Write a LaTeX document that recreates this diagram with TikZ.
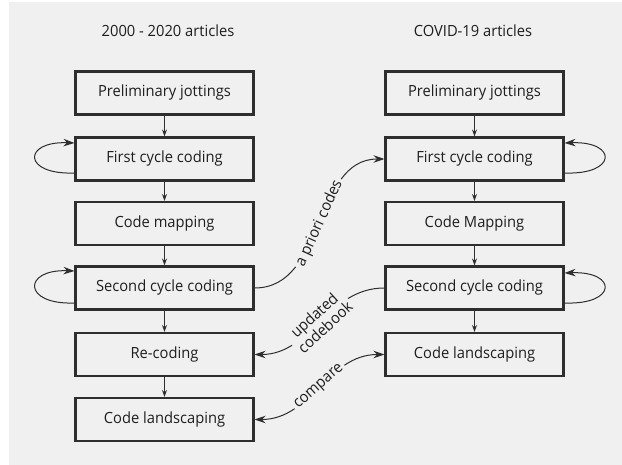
\documentclass[tikz,border=0pt]{standalone}
\usepackage{fontspec}
\setmainfont{Open Sans}[FakeStretch=0.955]
\usetikzlibrary{arrows.meta}
\definecolor{bg}{HTML}{F0F0F0}
\definecolor{ln}{HTML}{2E2E2E}
\definecolor{tx}{HTML}{1E1E1E}
\begin{document}
\begin{tikzpicture}[x=1pt,y=-1pt,
  box/.style={draw=ln, line width=2.1pt, fill=bg, minimum width=178pt, minimum height=43pt, inner sep=0pt, text=tx, font=\fontsize{15.4}{18}\selectfont},
  title/.style={text=tx, font=\fontsize{15.4}{18}\selectfont},
  flow/.style={draw=ln, line width=0.9pt, -{Stealth[length=7pt,width=5pt]}},
  conn/.style={draw=ln, line width=1pt, -{Stealth[length=11pt,width=7.5pt]}},
  lbl/.style={sloped, fill=bg, text=tx, inner sep=2.5pt, font=\fontsize{15.4}{15}\selectfont}
]
\useasboundingbox (0,0) rectangle (622,465);
\fill[bg] (9,2) rectangle (622,465);

\node[title] (TL) at (168,31) {2000 - 2020 articles};
\node[title] (TR) at (473,31) {COVID-19 articles};

\node[box] (L1) at (164.5,93)    {Preliminary jottings};
\node[box] (L2) at (164.5,159)   {First cycle coding};
\node[box] (L3) at (164.5,223.5) {Code mapping};
\node[box] (L4) at (164.5,288)   {Second cycle coding};
\node[box] (L5) at (164.5,354.5) {Re-coding};
\node[box] (L6) at (164.5,419.5) {Code landscaping};

\node[box] (R1) at (474.5,93)    {Preliminary jottings};
\node[box] (R2) at (474.5,159)   {First cycle coding};
\node[box] (R3) at (474.5,223.5) {Code Mapping};
\node[box] (R4) at (474.5,288)   {Second cycle coding};
\node[box] (R5) at (474.5,354.5) {Code landscaping};

\draw[flow] (L1) -- (L2);
\draw[flow] (L2) -- (L3);
\draw[flow] (L3) -- (L4);
\draw[flow] (L4) -- (L5);
\draw[flow] (L5) -- (L6);
\draw[flow] (R1) -- (R2);
\draw[flow] (R2) -- (R3);
\draw[flow] (R3) -- (R4);
\draw[flow] (R4) -- (R5);

% self loops
\draw[conn] ([yshift=-14pt]L2.west) .. controls +(-52,2) and +(-52,-2) .. ([yshift=16pt]L2.west);
\draw[conn] ([yshift=-15pt]L4.west) .. controls +(-52,2) and +(-52,-2) .. ([yshift=17pt]L4.west);
\draw[conn] ([yshift=-14pt]R2.east) .. controls +(53,2) and +(53,-2) .. ([yshift=16pt]R2.east);
\draw[conn] ([yshift=-15pt]R4.east) .. controls +(53,2) and +(53,-2) .. ([yshift=15pt]R4.east);

% cross connectors
\draw[conn] (L4.east) to[out=0,in=180] node[lbl] {a priori codes} (R2.west);
\draw[conn] (R4.west) to[out=180,in=0] node[lbl, align=center] {updated\\codebook} (L5.east);
\draw[conn, {Stealth[length=11pt,width=7.5pt]}-{Stealth[length=11pt,width=7.5pt]}] (L6.east) to[out=0,in=180] node[lbl] {compare} (R5.west);
\end{tikzpicture}
\end{document}
